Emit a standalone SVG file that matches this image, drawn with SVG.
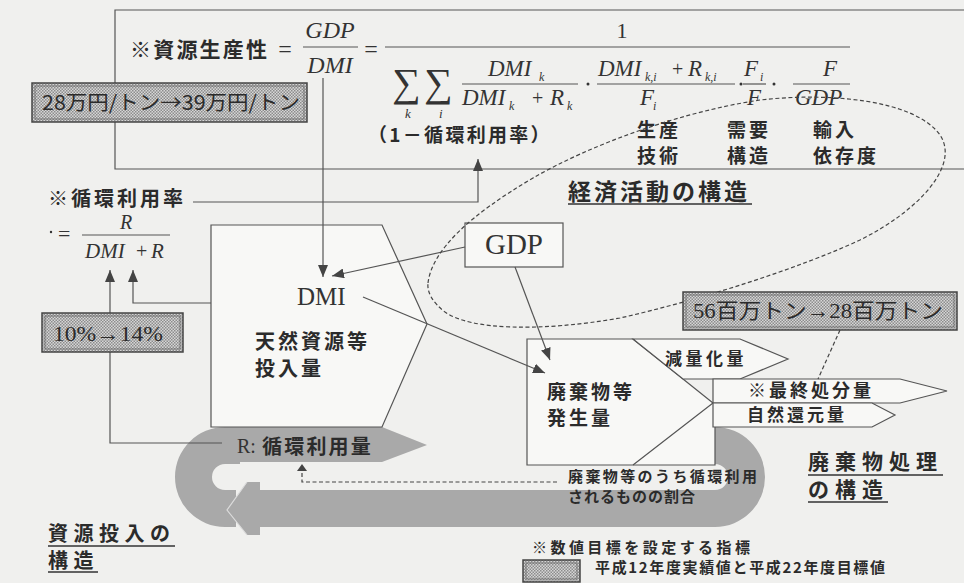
<svg xmlns="http://www.w3.org/2000/svg" width="964" height="583" viewBox="0 0 964 583">
<defs>
<pattern id="hatch" width="3" height="3" patternUnits="userSpaceOnUse">
<rect width="3" height="3" fill="#d6d6d6"/>
<rect width="1.5" height="1.5" fill="#8c8c8c"/>
<rect x="1.5" y="1.5" width="1.5" height="1.5" fill="#8c8c8c"/>
</pattern>
<marker id="ah" viewBox="0 0 12 10" refX="12" refY="5" markerWidth="12" markerHeight="10" markerUnits="userSpaceOnUse" orient="auto">
<path d="M0,0 L12,5 L0,10 z" fill="#444"/>
</marker>
</defs>
<style>
.jp{font-family:"Noto Sans CJK JP","Noto Sans CJK SC",sans-serif;fill:#2b2b2b;font-weight:bold}
.jpn{font-family:"Noto Sans CJK JP","Noto Sans CJK SC",sans-serif;fill:#2b2b2b}
.mi{font-family:"Liberation Serif",serif;font-style:italic;fill:#333}
.mr{font-family:"Liberation Serif",serif;fill:#333}
.mix{font-family:"Liberation Serif","Noto Sans CJK JP",serif;fill:#2b2b2b}
.ln{stroke:#555;stroke-width:1.2;fill:none}
.box{fill:#f8f8f6;stroke:#555;stroke-width:1.2}
.band{fill:#a9a9a9}
.hb{fill:url(#hatch);stroke:#444;stroke-width:1.5}
.hbi{fill:none;stroke:#666;stroke-width:0.8}
.ul{stroke:#333;stroke-width:1.3}
.arr{stroke:#555;stroke-width:1.2;fill:none;marker-end:url(#ah)}
.dash{stroke:#444;stroke-width:1.2;fill:none;stroke-dasharray:4 2.5}
</style>
<rect width="964" height="583" fill="#f0f0ee"/>

<!-- gray flow bands -->
<g id="recycle-bands">
<path class="band" d="M700 427 L715 427 A50 50 0 0 1 715 527 L245 527 L245 490 L715 490 A13 13 0 0 0 715 464 L700 464 Z"/>
<path class="band" d="M240 427 L225 427 A50 50 0 0 0 225 527 L236 527 L236 490 L225 490 A13 13 0 0 1 225 464 L240 464 Z"/>
<polygon class="band" points="225,427 382,427 427,445 382,462 225,462"/>
<polygon class="band" points="247,482 227,510 247,535 260,535 260,482"/>
<polyline points="247,482 227,510 247,535" fill="none" stroke="#dcdcdc" stroke-width="1.2"/>
</g>

<!-- formula box -->
<g id="formula">
<polyline class="ln" points="964,10 115,10 115,169 964,169"/>
<text class="jp" x="130" y="57" font-size="21" letter-spacing="2.2">※資源生産性</text>
<text class="mr" x="285" y="57" font-size="24" text-anchor="middle">=</text>
<text class="mi" x="330" y="38" font-size="24" text-anchor="middle">GDP</text>
<line class="ln" x1="303" y1="47" x2="358" y2="47"/>
<text class="mi" x="330" y="73" font-size="24" text-anchor="middle">DMI</text>
<text class="mr" x="371" y="57" font-size="24" text-anchor="middle">=</text>
<line class="ln" x1="385" y1="47" x2="850" y2="47"/>
<text class="mr" x="622" y="38" font-size="22" text-anchor="middle">1</text>
<text class="mr" x="392" y="96" font-size="40">∑</text>
<text class="mr" x="424" y="96" font-size="40">∑</text>
<text class="mi" x="405" y="118" font-size="13">k</text>
<text class="mi" x="439" y="118" font-size="13">i</text>
<text class="mi" x="488" y="76" font-size="23">DMI</text>
<text class="mi" x="539" y="81" font-size="12">k</text>
<line class="ln" x1="462" y1="84" x2="578" y2="84"/>
<text class="mi" x="462" y="105" font-size="23">DMI</text>
<text class="mi" x="509" y="110" font-size="12">k</text>
<text class="mr" x="532" y="105" font-size="20">+</text>
<text class="mi" x="550" y="105" font-size="23">R</text>
<text class="mi" x="567" y="110" font-size="12">k</text>
<circle cx="588" cy="84" r="1.5" fill="#333"/>
<text class="mi" x="598" y="76" font-size="23">DMI</text>
<text class="mi" x="645" y="81" font-size="12">k,i</text>
<text class="mr" x="672" y="76" font-size="20">+</text>
<text class="mi" x="688" y="76" font-size="23">R</text>
<text class="mi" x="705" y="81" font-size="12">k,i</text>
<line class="ln" x1="597" y1="84" x2="735" y2="84"/>
<text class="mi" x="640" y="105" font-size="23">F</text>
<text class="mi" x="653" y="110" font-size="12">i</text>
<circle cx="741" cy="84" r="1.5" fill="#333"/>
<text class="mi" x="744" y="76" font-size="23">F</text>
<text class="mi" x="760" y="81" font-size="12">i</text>
<line class="ln" x1="743" y1="84" x2="766" y2="84"/>
<text class="mi" x="747" y="105" font-size="23">F</text>
<circle cx="774" cy="84" r="1.5" fill="#333"/>
<text class="mi" x="823" y="76" font-size="23">F</text>
<line class="ln" x1="793" y1="84" x2="850" y2="84"/>
<text class="mi" x="795" y="105" font-size="23">GDP</text>
<text class="jp" x="368" y="142" font-size="19" letter-spacing="2.3">（1－循環利用率）</text>
<text class="jp" x="637" y="137" font-size="19" letter-spacing="3">生産</text>
<text class="jp" x="637" y="163" font-size="19" letter-spacing="3">技術</text>
<text class="jp" x="727" y="137" font-size="19" letter-spacing="3">需要</text>
<text class="jp" x="727" y="163" font-size="19" letter-spacing="3">構造</text>
<text class="jp" x="813" y="137" font-size="19" letter-spacing="3">輸入</text>
<text class="jp" x="813" y="163" font-size="19" letter-spacing="3">依存度</text>
</g>

<!-- recycling rate formula -->
<g id="recycle-rate">
<text class="jp" x="48" y="206" font-size="20" letter-spacing="3">※循環利用率</text>
<circle cx="51" cy="232" r="1.2" fill="#333"/>
<text class="mr" x="58" y="241" font-size="22">=</text>
<text class="mi" x="126" y="229" font-size="20" text-anchor="middle">R</text>
<line class="ln" x1="82" y1="235" x2="170" y2="235"/>
<text class="mi" x="85" y="258" font-size="21">DMI</text>
<text class="mr" x="136" y="258" font-size="20">+</text>
<text class="mi" x="151" y="258" font-size="21">R</text>
</g>

<!-- DMI node -->
<g id="dmi">
<polygon class="box" points="211,225 382,225 427,324 382,427 211,427"/>
<text class="mr" x="297" y="305" font-size="25">DMI</text>
<text class="jp" x="255" y="349" font-size="20" letter-spacing="3">天然資源等</text>
<text class="jp" x="255" y="376" font-size="20" letter-spacing="3">投入量</text>
</g>

<!-- GDP node -->
<g id="gdp">
<rect class="box" x="465" y="223" width="98" height="44"/>
<text class="mr" x="514" y="254" font-size="29" text-anchor="middle">GDP</text>
</g>

<!-- waste node -->
<g id="waste">
<polygon points="527,339 633,339 713,403 715,403 715,465 527,465" fill="#f8f8f6"/>
<polyline class="ln" points="633,339 527,339 527,465 715,465 715,427"/>
<polyline class="ln" points="633,339 713,403 633,465"/>
<text class="jp" x="547" y="399" font-size="19" letter-spacing="3">廃棄物等</text>
<text class="jp" x="547" y="425" font-size="19" letter-spacing="3">発生量</text>
</g>
<g id="reduction">
<polygon class="box" points="633,339 740,339 788,359 740,379 683,379"/>
<text class="jp" x="665" y="365" font-size="17" letter-spacing="3.5">減量化量</text>
</g>
<g id="final-disposal">
<polygon class="box" points="713,379 900,379 947,391 900,403 713,403"/>
<text class="jp" x="748" y="397" font-size="18" letter-spacing="3">※最終処分量</text>
</g>
<g id="natural-return">
<polygon class="box" points="713,403 872,403 895,415 872,427 713,427"/>
<text class="jp" x="747" y="421" font-size="17" letter-spacing="3">自然還元量</text>
</g>

<!-- recycle amount label -->
<g id="recycle-amount">
<text class="mr" x="237" y="453" font-size="20">R:</text>
<text class="jp" x="262" y="454" font-size="20" letter-spacing="2.2">循環利用量</text>
</g>

<!-- connectors -->
<g id="connectors">
<line class="arr" x1="323" y1="78" x2="323" y2="277"/>
<line class="arr" x1="465" y1="247" x2="332" y2="276"/>
<line class="arr" x1="363" y1="297" x2="545" y2="373"/>
<line class="arr" x1="515" y1="267" x2="550" y2="360"/>
<polyline class="arr" points="193,202 478,202 478,159"/>
<polyline class="arr" points="211,303 133,303 133,270"/>
<polyline class="arr" points="222,443 110,443 110,270"/>
<polyline class="dash" points="557,482 302,482 302,470"/>
<path d="M297,471 L302,464 L307,471 z" fill="#444"/>
<line class="dash" x1="840" y1="330" x2="818" y2="379"/>
<path class="dash" d="M428 283 C432 250 470 215 533 178 C590 145 680 112 760 100 C830 92 915 100 940 135 C960 165 920 210 860 240 C800 268 700 300 620 318 C540 332 470 330 445 312 C432 302 427 292 428 283 Z"/>
</g>

<!-- target value boxes -->
<g id="target-productivity">
<rect class="hb" x="32" y="83" width="275" height="39"/>
<rect class="hbi" x="35" y="86" width="269" height="33"/>
<text class="jpn" x="42" y="110" font-size="20" textLength="258" lengthAdjust="spacingAndGlyphs">28万円/トン→39万円/トン</text>
</g>
<g id="target-rate">
<rect class="hb" x="42" y="313" width="141" height="39"/>
<rect class="hbi" x="45" y="316" width="135" height="33"/>
<text class="mix" x="53" y="341" font-size="22" textLength="110" lengthAdjust="spacingAndGlyphs">10%→14%</text>
</g>
<g id="target-disposal">
<rect class="hb" x="683" y="292" width="274" height="38"/>
<rect class="hbi" x="686" y="295" width="268" height="32"/>
<text class="mix" x="693" y="318" font-size="21" textLength="250" lengthAdjust="spacingAndGlyphs">56百万トン→28百万トン</text>
</g>

<!-- labels -->
<g id="recycle-share-label">
<text class="jp" x="568" y="482" font-size="15" textLength="189" lengthAdjust="spacing">廃棄物等のうち循環利用</text>
<text class="jp" x="568" y="502" font-size="15" textLength="127" lengthAdjust="spacing">されるものの割合</text>
</g>
<g id="label-economy">
<text class="jp" x="568" y="200" font-size="23" letter-spacing="3">経済活動の構造</text>
<line class="ul" x1="568" y1="204" x2="752" y2="204"/>
</g>
<g id="label-input">
<text class="jp" x="48" y="541" font-size="20" letter-spacing="5.5">資源投入の</text>
<line class="ul" x1="48" y1="546" x2="175" y2="546"/>
<text class="jp" x="48" y="568" font-size="20" letter-spacing="5.5">構造</text>
<line class="ul" x1="48" y1="572" x2="98" y2="572"/>
</g>
<g id="label-waste">
<text class="jp" x="808" y="469" font-size="21" letter-spacing="6">廃棄物処理</text>
<line class="ul" x1="808" y1="475" x2="943" y2="475"/>
<text class="jp" x="808" y="497" font-size="21" letter-spacing="6">の構造</text>
<line class="ul" x1="808" y1="502" x2="888" y2="502"/>
</g>
<g id="legend">
<text class="jp" x="532" y="553" font-size="15" textLength="218" lengthAdjust="spacing">※数値目標を設定する指標</text>
<rect class="hb" x="523" y="560" width="57" height="22"/>
<rect class="hbi" x="526" y="563" width="51" height="16"/>
<text class="jp" x="595" y="573" font-size="15" textLength="290" lengthAdjust="spacing">平成12年度実績値と平成22年度目標値</text>
</g>
</svg>
